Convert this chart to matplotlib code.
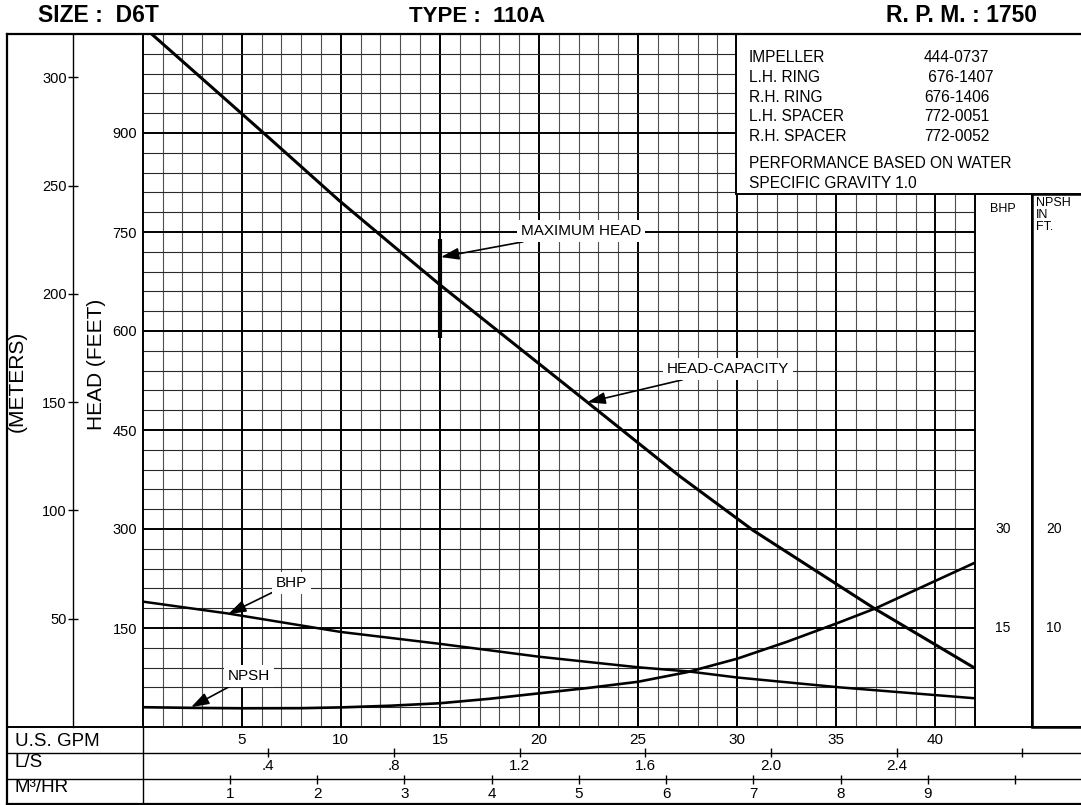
import numpy as np
import matplotlib
matplotlib.use("Agg")
import matplotlib.pyplot as plt
from matplotlib.patches import Rectangle
from matplotlib.lines import Line2D
from matplotlib.transforms import blended_transform_factory

plt.rcParams['font.family'] = ['Liberation Sans', 'DejaVu Sans']

# ---- data ----
head_gpm = [0.45, 6.1, 9.9, 13.0, 15.0, 22.4, 27.1, 30.8, 36.9, 42.0]
head_ft = [1050, 900, 798, 720, 670, 493, 380, 298, 180, 89]

bhp_gpm = [0, 4.3, 10, 15, 20, 25, 27.6, 30, 35.2, 42]
bhp_val = [19.0, 17.2, 14.4, 12.6, 10.65, 9.05, 8.4, 7.5, 6.0, 4.35]

npsh_gpm = [0, 2.5, 5, 8, 10, 12.5, 15, 17.5, 20, 22.5, 25, 27.5, 30, 32.5, 35, 37, 39.5, 42]
npsh_ft = [2.0, 1.93, 1.89, 1.9, 1.98, 2.15, 2.4, 2.85, 3.4, 3.95, 4.57, 5.55, 6.9, 8.6, 10.45, 12.0, 14.3, 16.6]

max_head_gpm = 15
max_head_range = (590, 740)

gpm_ticks = [5, 10, 15, 20, 25, 30, 35, 40]
feet_ticks = [150, 300, 450, 600, 750, 900]
meter_ticks = [50, 100, 150, 200, 250, 300]
ls_ticks = [0.4, 0.8, 1.2, 1.6, 2.0, 2.4, 2.8]
ls_labels = ['.4', '.8', '1.2', '1.6', '2.0', '2.4', '']
m3hr_ticks = [1, 2, 3, 4, 5, 6, 7, 8, 9, 10]
m3hr_labels = ['1', '2', '3', '4', '5', '6', '7', '8', '9', '']
bhp_scale = [15, 30]
npsh_scale = [10, 20]

parts = [("IMPELLER", "444-0737"), ("L.H. RING", " 676-1407"), ("R.H. RING", "676-1406"),
         ("L.H. SPACER", "772-0051"), ("R.H. SPACER", "772-0052")]

GPM_PER_LS = 15.850
GPM_PER_M3HR = 4.4029
FT_PER_M = 3.2808
BHP_TO_FT = 10    # BHP column: 30 sits on the 300 ft line
NPSH_TO_FT = 15   # NPSH column: 20 sits on the 300 ft line

# ---- layout (pixels) ----
W, H = 1081, 805
X0, X1, Y0, Y1 = 142.7, 975, 34, 727
XMAX, YMAX = 42, 1050


def fx(px):
    return px / W


def fy(py):
    return 1 - py / H


fig = plt.figure(figsize=(W / 100, H / 100), dpi=100)
ax = fig.add_axes([fx(X0), fy(Y1), (X1 - X0) / W, (Y1 - Y0) / H])
ax.set_xlim(0, XMAX)
ax.set_ylim(0, YMAX)

# grid
for g in range(1, XMAX):
    major = g % 5 == 0
    ax.axvline(g, color='black' if major else '#505050', lw=1.4 if major else 0.8, zorder=1)
for f in range(30, YMAX, 30):
    major = f % 150 == 0
    ax.axhline(f, color='black' if major else '#2a2a2a', lw=1.4 if major else 0.8, zorder=1)

for s in ['top', 'right', 'bottom']:
    ax.spines[s].set_visible(False)
ax.spines['left'].set_linewidth(1.4)

ax.set_yticks(feet_ticks)
ax.set_yticklabels([str(v) for v in feet_ticks])
ax.set_xticks(gpm_ticks)
ax.set_xticklabels([str(v) for v in gpm_ticks])
ax.tick_params(axis='y', length=0, pad=4, labelsize=10.5)
ax.tick_params(axis='x', length=0, pad=4.5, labelsize=11)

# meters scale
sec = ax.secondary_yaxis(-(X0 - 72.7) / (X1 - X0),
                         functions=(lambda f: f / FT_PER_M, lambda m: m * FT_PER_M))
sec.set_yticks(meter_ticks)
sec.tick_params(direction='inout', length=6.5, width=1.0, labelsize=10.5, pad=1)
sec.spines['left'].set_linewidth(1.0)

# curves
ax.plot(head_gpm, head_ft, color='black', lw=2.2, zorder=3, solid_capstyle='butt')
ax.plot(bhp_gpm, np.array(bhp_val) * BHP_TO_FT, color='black', lw=1.8, zorder=3)
ax.plot(npsh_gpm, np.array(npsh_ft) * NPSH_TO_FT, color='black', lw=1.9, zorder=3)
ax.vlines(max_head_gpm, *max_head_range, color='black', lw=3, zorder=3)

# call-outs
arrow = dict(arrowstyle='-|>,head_length=0.9,head_width=0.3', color='black', lw=1.2,
             shrinkA=0, shrinkB=0, mutation_scale=12)
box = dict(boxstyle='square,pad=0.25', fc='white', ec='none')
callouts = [("MAXIMUM HEAD", (15.05, 712), (521, H - 231)),
            ("HEAD-CAPACITY", (22.44, 492), (667, H - 369)),
            ("BHP", (4.31, 171), (276, H - 583)),
            ("NPSH", (2.44, 30), (228, H - 676))]
for txt, tip, pos in callouts:
    ax.annotate(txt, xy=tip, xycoords='data', xytext=pos, textcoords='figure pixels',
                ha='left', va='center', fontsize=11, bbox=box, arrowprops=arrow, zorder=4)

# axis titles
fig.text(fx(17), fy(381), "(METERS)", rotation=90, ha='center', va='center', fontsize=15)
fig.text(fx(97), fy(364), "HEAD (FEET)", rotation=90, ha='center', va='center', fontsize=15)

# header
fig.text(fx(38), fy(16), "SIZE :  D6T", ha='left', va='center', fontsize=16.5, fontweight='bold')
fig.text(fx(477), fy(16), "TYPE :  110A", ha='center', va='center', fontsize=16, fontweight='bold')
fig.text(fx(1037), fy(16), "R. P. M. : 1750", ha='right', va='center', fontsize=16.5, fontweight='bold')


def fline(xa, ya, xb, yb, lw=1.4):
    fig.add_artist(Line2D([fx(xa), fx(xb)], [fy(ya), fy(yb)], transform=fig.transFigure,
                          color='black', lw=lw, zorder=5, solid_capstyle='projecting'))


# frame
fline(7.3, 34, 1090, 34, 1.6)
fline(7.3, 34, 7.3, 804, 1.6)
fline(7.3, 804, 1090, 804, 1.6)
fline(7.3, Y1, 1090, Y1, 1.4)
fline(7.3, 753, 1090, 753, 1.0)
fline(7.3, 779, 1090, 779, 1.0)
fline(X0, Y1, X0, 804, 1.0)

# info box and side columns
fig.add_artist(Rectangle((fx(736), fy(194)), fx(1100) - fx(736), (194 - 34) / H,
                         transform=fig.transFigure, fc='white', ec='black', lw=1.4, zorder=2))
fig.add_artist(Rectangle((fx(975), fy(Y1)), fx(1032) - fx(975), (Y1 - 194) / H,
                         transform=fig.transFigure, fc='white', ec='black', lw=1.4, zorder=2))
fig.add_artist(Rectangle((fx(1032), fy(Y1)), fx(1100) - fx(1032), (Y1 - 194) / H,
                         transform=fig.transFigure, fc='white', ec='black', lw=1.8, zorder=2))

for i, (name, num) in enumerate(parts):
    yy = 58 + i * 19.6
    fig.text(fx(749), fy(yy), name, ha='left', va='center', fontsize=11.2, zorder=6)
    fig.text(fx(924), fy(yy), num, ha='left', va='center', fontsize=11.2, zorder=6)
fig.text(fx(749), fy(163), "PERFORMANCE BASED ON WATER", ha='left', va='center', fontsize=11.2, zorder=6)
fig.text(fx(749), fy(183), "SPECIFIC GRAVITY 1.0", ha='left', va='center', fontsize=11.2, zorder=6)

fig.text(fx(1003), fy(209), "BHP", ha='center', va='center', fontsize=9, zorder=6)
fig.text(fx(1036), fy(197), "NPSH\nIN\nFT.", ha='left', va='top', fontsize=9, linespacing=1.0, zorder=6)

tr = blended_transform_factory(fig.transFigure, ax.transData)
for v in bhp_scale:
    fig.text(fx(1003), v * BHP_TO_FT, str(v), transform=tr, ha='center', va='center', fontsize=10, zorder=6)
for v in npsh_scale:
    fig.text(fx(1054), v * NPSH_TO_FT, str(v), transform=tr, ha='center', va='center', fontsize=10, zorder=6)

# bottom capacity table (y in pixel rows)
ppg = (X1 - X0) / XMAX
axb = fig.add_axes([fx(X0), fy(804), (W - X0) / W, (804 - Y1) / H])
axb.set_xlim(0, (W - X0) / ppg)
axb.set_ylim(804, Y1)
axb.axis('off')

ls_x = [v * GPM_PER_LS for v in ls_ticks]
axb.vlines(ls_x, 748.5, 757.5, color='black', lw=1.0)
for x, lab in zip(ls_x, ls_labels):
    axb.text(x, 766, lab, ha='center', va='center', fontsize=11)

m3_x = [v * GPM_PER_M3HR for v in m3hr_ticks]
axb.vlines(m3_x, 774.5, 783.5, color='black', lw=1.0)
for x, lab in zip(m3_x, m3hr_labels):
    axb.text(x, 794, lab, ha='center', va='center', fontsize=11)

fig.text(fx(15), fy(741), "U.S. GPM", ha='left', va='center', fontsize=13.5)
fig.text(fx(15), fy(762), "L/S", ha='left', va='center', fontsize=13.5)
fig.text(fx(15), fy(787), "M³/HR", ha='left', va='center', fontsize=13.5)

fig.savefig("out.png", dpi=100)
